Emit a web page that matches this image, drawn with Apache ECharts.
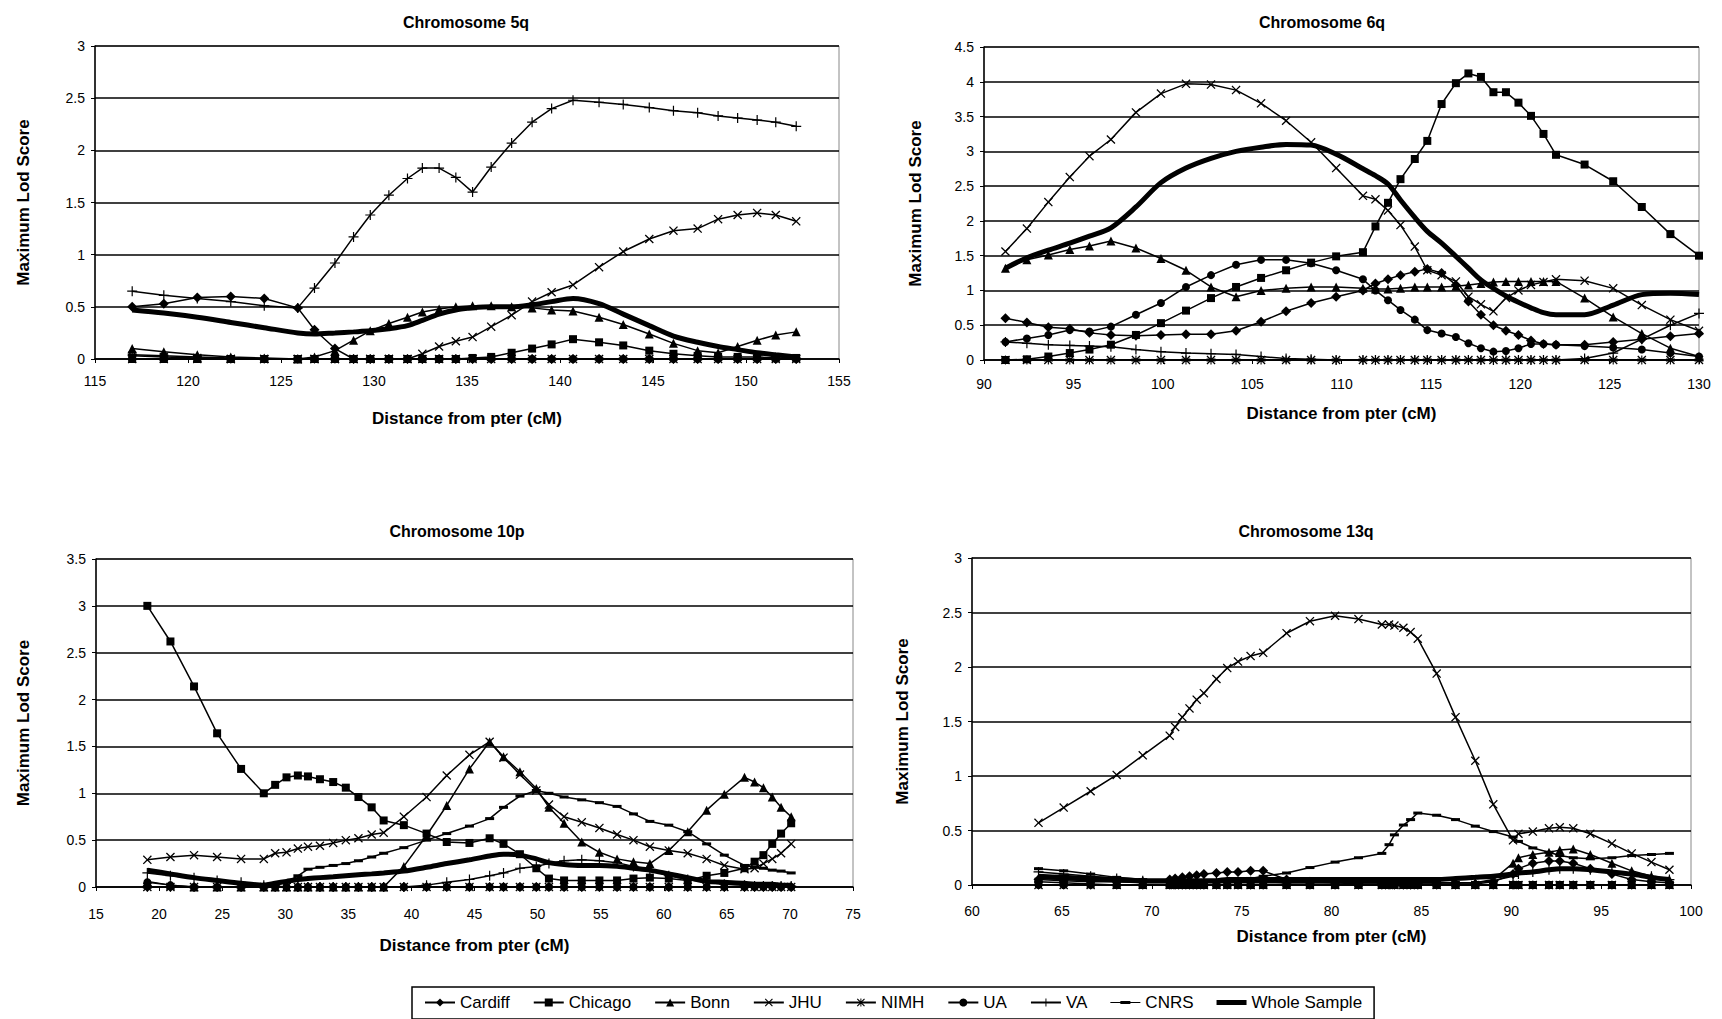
<!DOCTYPE html>
<html><head><meta charset="utf-8">
<script src="https://cdn.jsdelivr.net/npm/echarts@6/dist/echarts.min.js"></script>
<style>html,body{margin:0;padding:0;background:#fff;}#c{width:1722px;height:1019px;}</style>
</head><body><div id="c"></div>
<script>
// ---------- DATA ----------
const seriesNames = ['Cardiff','Chicago','Bonn','JHU','NIMH','UA','VA','CNRS','Whole Sample'];
const panelTitles = ['Chromosome 5q','Chromosome 6q','Chromosome 10p','Chromosome 13q'];
const xAxisName = 'Distance from pter (cM)';
const yAxisName = 'Maximum Lod Score';

// Chromosome 5q
const xs5q = [117,118.7,120.5,122.3,124.1,125.9,126.8,127.9,128.9,129.8,130.8,131.8,132.6,133.5,134.4,135.3,136.3,137.4,138.5,139.55,140.7,142.1,143.4,144.8,146.1,147.4,148.5,149.55,150.6,151.6,152.7];
const cardiff5q = [0.50,0.53,0.59,0.60,0.58,0.49,0.28,0.10,0,0,0,0,0,0,0,0,0,0,0,0,0,0,0,0,0,0,0,0,0,0,0];
const chicago5q = [0,0,0,0,0,0,0,0,0,0,0,0,0,0,0,0.01,0.02,0.06,0.10,0.14,0.19,0.16,0.13,0.08,0.05,0.03,0.02,0.02,0.02,0.01,0.01];
const bonn5q = [0.10,0.07,0.04,0.02,0.01,0,0.02,0.08,0.18,0.27,0.34,0.40,0.45,0.48,0.50,0.51,0.51,0.50,0.49,0.47,0.46,0.40,0.33,0.24,0.15,0.08,0.06,0.12,0.18,0.23,0.26];
const jhu5q = [0,0,0,0,0,0,0,0,0,0,0,0,0.05,0.12,0.17,0.21,0.31,0.42,0.55,0.64,0.71,0.88,1.03,1.15,1.23,1.25,1.34,1.38,1.40,1.38,1.32];
const nimh5q = [0.03,0.02,0.01,0,0,0,0,0,0,0,0,0,0,0,0,0,0,0,0,0,0,0,0,0,0,0,0,0,0,0,0];
const ua5q = [0,0,0,0,0,0,0,0,0,0,0,0,0,0,0,0,0,0,0,0,0,0,0,0,0,0,0,0,0,0,0];
const va5q = [0.65,0.61,0.58,0.55,0.51,0.49,0.68,0.92,1.17,1.38,1.57,1.73,1.83,1.83,1.74,1.60,1.84,2.07,2.27,2.40,2.48,2.46,2.44,2.41,2.38,2.36,2.33,2.31,2.29,2.27,2.23];
const cnrs5q = [0.04,0.03,0.02,0.01,0,0,0,0,0,0,0,0,0,0,0,0,0,0,0,0,0,0,0,0,0,0,0,0,0,0,0];
const whole5q = [0.47,0.44,0.40,0.35,0.30,0.25,0.24,0.25,0.26,0.27,0.29,0.32,0.37,0.43,0.47,0.49,0.50,0.50,0.52,0.55,0.58,0.53,0.43,0.32,0.22,0.16,0.12,0.09,0.06,0.04,0.02];

// Chromosome 6q
const xs6q = [91.2,92.4,93.6,94.8,95.9,97.1,98.5,99.9,101.3,102.7,104.1,105.5,106.9,108.3,109.7,111.2,111.9,112.6,113.3,114.1,114.8,115.6,116.4,117.1,117.8,118.5,119.2,119.9,120.6,121.3,122.0,123.6,125.2,126.8,128.4,130.0];
const cardiff6q = [0.60,0.54,0.47,0.45,0.39,0.36,0.35,0.36,0.37,0.37,0.42,0.55,0.70,0.82,0.91,1.00,1.10,1.16,1.22,1.27,1.31,1.25,1.08,0.84,0.65,0.50,0.42,0.36,0.28,0.23,0.22,0.22,0.26,0.30,0.34,0.38];
const chicago6q = [0,0.01,0.05,0.10,0.15,0.22,0.36,0.53,0.71,0.89,1.05,1.18,1.29,1.40,1.49,1.55,1.92,2.26,2.60,2.89,3.15,3.68,3.98,4.12,4.07,3.85,3.85,3.70,3.51,3.25,2.95,2.81,2.57,2.20,1.81,1.50];
const bonn6q = [1.32,1.44,1.51,1.59,1.64,1.71,1.61,1.46,1.29,1.05,0.91,1.00,1.03,1.05,1.05,1.03,1.02,1.02,1.03,1.05,1.05,1.05,1.06,1.08,1.10,1.12,1.13,1.13,1.13,1.13,1.13,0.89,0.62,0.38,0.17,0.05];
const jhu6q = [1.56,1.89,2.27,2.63,2.93,3.17,3.56,3.83,3.97,3.96,3.88,3.69,3.44,3.13,2.76,2.36,2.31,2.15,1.94,1.63,1.29,1.22,1.13,0.91,0.80,0.70,0.89,1.00,1.08,1.12,1.16,1.14,1.03,0.79,0.58,0.42];
const nimh6q = [0,0,0,0,0,0,0,0,0,0,0,0,0,0,0,0,0,0,0,0,0,0,0,0,0,0,0,0,0,0,0,0,0,0,0,0];
const ua6q = [0.26,0.31,0.36,0.43,0.41,0.48,0.65,0.82,1.05,1.22,1.37,1.44,1.44,1.39,1.29,1.16,1.00,0.86,0.72,0.58,0.43,0.38,0.33,0.24,0.17,0.12,0.13,0.17,0.23,0.23,0.22,0.20,0.18,0.15,0.10,0.05];
const va6q = [0.26,0.24,0.22,0.21,0.20,0.19,0.15,0.12,0.10,0.09,0.08,0.05,0.02,0.01,0,0,0,0,0,0,0,0,0,0,0,0,0,0,0,0,0,0.02,0.10,0.30,0.50,0.67];
const cnrs6q = [0,0,0,0,0,0,0,0,0,0,0,0,0,0,0,0,0,0,0,0,0,0,0,0,0,0,0,0,0,0,0,0,0,0,0,0];
const whole6q = [1.32,1.47,1.58,1.68,1.78,1.90,2.20,2.55,2.76,2.90,3.00,3.06,3.10,3.09,2.96,2.75,2.65,2.53,2.30,2.05,1.85,1.68,1.49,1.32,1.15,1.03,0.92,0.83,0.75,0.68,0.65,0.65,0.79,0.94,0.96,0.94];

// Chromosome 10p
const xs10p = [19.07,20.9,22.77,24.6,26.5,28.3,29.2,30.1,31.0,31.8,32.75,33.8,34.8,35.8,36.85,37.8,39.4,41.2,42.8,44.6,46.2,47.3,48.6,49.9,50.9,52.1,53.5,54.9,56.3,57.6,58.9,60.4,61.9,63.4,64.8,66.4,67.2,67.9,68.6,69.3,70.1];
const cardiff10p = [0,0,0,0,0,0,0,0,0,0,0,0,0,0,0,0,0,0,0,0,0,0,0,0,0,0,0,0,0,0,0,0,0,0,0,0,0,0,0,0,0];
const chicago10p = [3.00,2.62,2.14,1.64,1.26,1.00,1.09,1.17,1.19,1.18,1.15,1.12,1.06,0.96,0.85,0.71,0.66,0.57,0.48,0.47,0.52,0.46,0.35,0.20,0.09,0.07,0.07,0.07,0.07,0.09,0.10,0.09,0.07,0.12,0.15,0.20,0.27,0.34,0.46,0.57,0.68];
const bonn10p = [0.06,0.02,0,0,0,0,0,0,0,0,0,0,0,0,0,0,0.22,0.55,0.87,1.26,1.55,1.39,1.23,1.05,0.85,0.68,0.48,0.37,0.30,0.27,0.25,0.39,0.59,0.82,0.99,1.17,1.12,1.06,0.96,0.85,0.75];
const jhu10p = [0.29,0.32,0.34,0.32,0.30,0.30,0.36,0.37,0.41,0.43,0.44,0.47,0.50,0.52,0.56,0.58,0.75,0.96,1.19,1.41,1.55,1.38,1.20,1.03,0.88,0.75,0.69,0.63,0.56,0.50,0.43,0.39,0.36,0.30,0.23,0.19,0.20,0.25,0.30,0.36,0.46];
const nimh10p = [0,0,0,0,0,0,0,0,0,0,0,0,0,0,0,0,0,0,0,0,0,0,0,0,0,0,0,0,0,0,0,0,0,0,0,0,0,0,0,0,0];
const ua10p = [0.05,0.02,0,0,0,0,0,0,0,0,0,0,0,0,0,0,0,0,0,0,0,0,0,0,0,0,0,0,0,0,0,0,0,0,0,0,0,0,0,0,0];
const va10p = [0.15,0.12,0.10,0.07,0.05,0.02,0.01,0,0,0,0,0,0,0,0,0,0,0.02,0.05,0.08,0.12,0.15,0.20,0.22,0.25,0.28,0.29,0.28,0.26,0.22,0.18,0.12,0.08,0.05,0.03,0.02,0.01,0.01,0.01,0.01,0.01];
const cnrs10p = [0,0,0,0,0,0,0.02,0.05,0.12,0.19,0.21,0.23,0.25,0.28,0.32,0.36,0.42,0.50,0.57,0.65,0.73,0.85,0.97,1.03,1.00,0.96,0.93,0.90,0.86,0.78,0.70,0.66,0.59,0.46,0.34,0.23,0.21,0.20,0.18,0.17,0.15];
const whole10p = [0.18,0.14,0.10,0.07,0.04,0.02,0.04,0.06,0.08,0.09,0.10,0.11,0.12,0.13,0.14,0.15,0.17,0.21,0.25,0.29,0.33,0.35,0.34,0.30,0.26,0.24,0.23,0.23,0.22,0.20,0.18,0.14,0.10,0.06,0.05,0.04,0.03,0.03,0.03,0.02,0.02];

// Chromosome 13q
const xs13q = [63.7,65.1,66.6,68.05,69.5,71.0,71.3,71.7,72.1,72.5,72.9,73.6,74.2,74.8,75.5,76.2,77.5,78.8,80.2,81.5,82.8,83.2,83.5,84.0,84.4,84.8,85.85,86.9,88.0,89.0,90.1,90.4,91.2,92.1,92.7,93.45,94.4,95.6,96.7,97.8,98.8];
const cardiff13q = [0.05,0.04,0.03,0.03,0.03,0.05,0.06,0.07,0.08,0.09,0.10,0.11,0.12,0.12,0.13,0.13,0.05,0.03,0.02,0.01,0.01,0.01,0.01,0.01,0.01,0.01,0.01,0.01,0.01,0.03,0.10,0.15,0.20,0.22,0.22,0.20,0.15,0.10,0.05,0.03,0.02];
const chicago13q = [0.03,0.02,0.01,0,0,0,0,0,0,0,0,0,0,0,0,0,0,0,0,0,0,0,0,0,0,0,0,0,0,0,0,0,0,0,0,0,0,0,0,0,0];
const bonn13q = [0.06,0.05,0.04,0.03,0.02,0.02,0.02,0.02,0.02,0.02,0.02,0.02,0.02,0.02,0.02,0.02,0.02,0.02,0.02,0.02,0.02,0.02,0.02,0.02,0.02,0.02,0.02,0.02,0.02,0.05,0.20,0.25,0.28,0.30,0.32,0.33,0.28,0.20,0.13,0.08,0.05];
const jhu13q = [0.57,0.71,0.86,1.01,1.19,1.37,1.45,1.54,1.62,1.70,1.76,1.89,1.99,2.05,2.10,2.13,2.31,2.42,2.47,2.44,2.39,2.39,2.38,2.36,2.32,2.26,1.94,1.54,1.14,0.74,0.41,0.47,0.49,0.52,0.53,0.52,0.47,0.38,0.29,0.21,0.14];
const nimh13q = [0,0,0,0,0,0,0,0,0,0,0,0,0,0,0,0,0,0,0,0,0,0,0,0,0,0,0,0,0,0,0,0,0,0,0,0,0,0,0,0,0];
const ua13q = [0,0,0,0,0,0,0,0,0,0,0,0,0,0,0,0,0,0,0,0,0,0,0,0,0,0,0,0,0,0,0,0,0,0,0,0,0,0,0,0,0];
const va13q = [0.12,0.10,0.08,0.06,0.04,0.03,0.03,0.03,0.03,0.03,0.03,0.03,0.03,0.03,0.03,0.03,0.02,0.02,0.02,0.02,0.02,0.02,0.02,0.02,0.02,0.02,0.02,0.02,0.02,0.04,0.08,0.10,0.12,0.14,0.15,0.15,0.14,0.12,0.10,0.08,0.05];
const cnrs13q = [0.15,0.13,0.10,0.07,0.05,0.04,0.04,0.04,0.04,0.04,0.04,0.04,0.04,0.05,0.06,0.08,0.11,0.16,0.21,0.25,0.29,0.37,0.46,0.55,0.60,0.66,0.64,0.60,0.54,0.49,0.44,0.40,0.34,0.30,0.27,0.25,0.24,0.25,0.27,0.28,0.29];
const whole13q = [0.08,0.07,0.06,0.05,0.04,0.04,0.04,0.04,0.04,0.04,0.04,0.04,0.05,0.05,0.05,0.05,0.05,0.05,0.05,0.05,0.05,0.05,0.05,0.05,0.05,0.05,0.05,0.06,0.07,0.08,0.10,0.11,0.12,0.14,0.15,0.15,0.14,0.12,0.10,0.07,0.05];

// axis ranges
const xMin = [115, 90, 15, 60];
const xMax = [155, 130, 75, 100];
const yMax = [3, 4.5, 3.5, 3];

// ---------- BUILD ----------
const panels = [
  {xs: xs5q, vals: [cardiff5q, chicago5q, bonn5q, jhu5q, nimh5q, ua5q, va5q, cnrs5q, whole5q]},
  {xs: xs6q, vals: [cardiff6q, chicago6q, bonn6q, jhu6q, nimh6q, ua6q, va6q, cnrs6q, whole6q]},
  {xs: xs10p, vals: [cardiff10p, chicago10p, bonn10p, jhu10p, nimh10p, ua10p, va10p, cnrs10p, whole10p]},
  {xs: xs13q, vals: [cardiff13q, chicago13q, bonn13q, jhu13q, nimh13q, ua13q, va13q, cnrs13q, whole13q]}
];

const FONT = "'Liberation Sans', Arial, Helvetica, sans-serif";
const PATH_X = 'path://M0,1L1,0L5,4L9,0L10,1L6,5L10,9L9,10L5,6L1,10L0,9L4,5Z';
const PATH_STAR = 'path://M0,1L1,0L5,4L9,0L10,1L6,5L10,9L9,10L5,6L1,10L0,9L4,5Z M4.4,0L5.6,0L5.6,10L4.4,10Z';
const PATH_PLUS = 'path://M4.4,0L5.6,0L5.6,4.4L10,4.4L10,5.6L5.6,5.6L5.6,10L4.4,10L4.4,5.6L0,5.6L0,4.4L4.4,4.4Z';
const markStyle = {
  'Cardiff': {symbol: 'diamond', size: 10},
  'Chicago': {symbol: 'rect', size: 8},
  'Bonn': {symbol: 'triangle', size: 9},
  'JHU': {symbol: PATH_X, size: 9},
  'NIMH': {symbol: PATH_STAR, size: 9},
  'UA': {symbol: 'circle', size: 8},
  'VA': {symbol: PATH_PLUS, size: 10},
  'CNRS': {symbol: 'rect', size: [9, 3]},
  'Whole Sample': {symbol: 'none', size: 0}
};
// custom legend icons (line + marker) where the default would be wrong
const legendIcons = {
  'CNRS': 'path://M0,4.4L30,4.4L30,5.6L0,5.6Z M10,3.5L20,3.5L20,6.5L10,6.5Z',
  'Whole Sample': 'path://M0,0L30,0L30,5L0,5Z'
};

// layout (pixels)
const grids = [
  {left: 95, top: 46, width: 744, height: 313},
  {left: 984, top: 47, width: 715, height: 313},
  {left: 96, top: 559, width: 757, height: 328},
  {left: 972, top: 558, width: 719, height: 327}
];
const titlePos = [[461, 9], [1317, 9], [452, 518], [1301, 518]];
const xLabelMargin = [15, 17, 20, 19];
const xNameGap = [51, 45, 50, 43];
const yNameGap = [63, 60, 64, 61];

const series = [];
panels.forEach((p, gi) => {
  seriesNames.forEach((name, si) => {
    const arr = p.vals[si];
    const data = [];
    p.xs.forEach((x, i) => { if (arr[i] !== null && arr[i] !== undefined) data.push([x, arr[i]]); });
    const ms = markStyle[name];
    const isWhole = name === 'Whole Sample';
    series.push({
      type: 'line', name: name, xAxisIndex: gi, yAxisIndex: gi,
      data: data,
      symbol: ms.symbol, symbolSize: ms.size, showSymbol: !isWhole,
      connectNulls: true, smooth: isWhole ? 0.3 : false,
      lineStyle: {color: '#000', width: isWhole ? 5 : 1.5},
      itemStyle: {color: '#000'},
      z: isWhole ? 3 : 2,
      emphasis: {disabled: true},
      silent: true
    });
  });
});

const option = {
  backgroundColor: '#fff',
  animation: false,
  textStyle: {fontFamily: FONT, color: '#000'},
  title: panelTitles.map((t, i) => ({
    text: t, left: titlePos[i][0], top: titlePos[i][1], textAlign: 'center',
    textStyle: {fontFamily: FONT, fontSize: 16, fontWeight: 'bold', color: '#000'}
  })),
  grid: grids.map(g => Object.assign({show: true, borderColor: '#888', borderWidth: 1, containLabel: false}, g)),
  xAxis: grids.map((g, i) => ({
    gridIndex: i, type: 'value', min: xMin[i], max: xMax[i], interval: 5,
    axisLine: {show: true, onZero: false, lineStyle: {color: '#000', width: 1.5}},
    axisTick: {show: true, length: 4, lineStyle: {color: '#000'}},
    axisLabel: {color: '#000', fontSize: 14, margin: xLabelMargin[i], fontFamily: FONT, showMinLabel: true, showMaxLabel: true},
    splitLine: {show: false},
    name: xAxisName, nameLocation: 'middle', nameGap: xNameGap[i],
    nameTextStyle: {fontFamily: FONT, fontSize: 17, fontWeight: 'bold', color: '#000'}
  })),
  yAxis: grids.map((g, i) => ({
    gridIndex: i, type: 'value', min: 0, max: yMax[i], interval: 0.5,
    axisLine: {show: true, onZero: false, lineStyle: {color: '#000', width: 1.5}},
    axisTick: {show: true, length: 4, lineStyle: {color: '#000'}},
    axisLabel: {color: '#000', fontSize: 14, margin: 10, fontFamily: FONT},
    splitLine: {show: true, lineStyle: {color: '#000', width: 1.5}},
    name: yAxisName, nameLocation: 'middle', nameGap: yNameGap[i],
    nameTextStyle: {fontFamily: FONT, fontSize: 17, fontWeight: 'bold', color: '#000'}
  })),
  legend: {
    data: seriesNames.map(n => legendIcons[n] ? {name: n, icon: legendIcons[n]} : {name: n}),
    left: 412, top: 987, orient: 'horizontal',
    itemGap: 23, itemWidth: 30, itemHeight: 10,
    padding: [7, 12, 8, 12],
    borderColor: '#000', borderWidth: 1.5,
    textStyle: {fontFamily: FONT, fontSize: 17, color: '#000'},
    selectedMode: false
  },
  series: series
};

const chart = echarts.init(document.getElementById('c'), null, {renderer: 'svg', width: 1722, height: 1019});
chart.setOption(option);
</script>
</body></html>
